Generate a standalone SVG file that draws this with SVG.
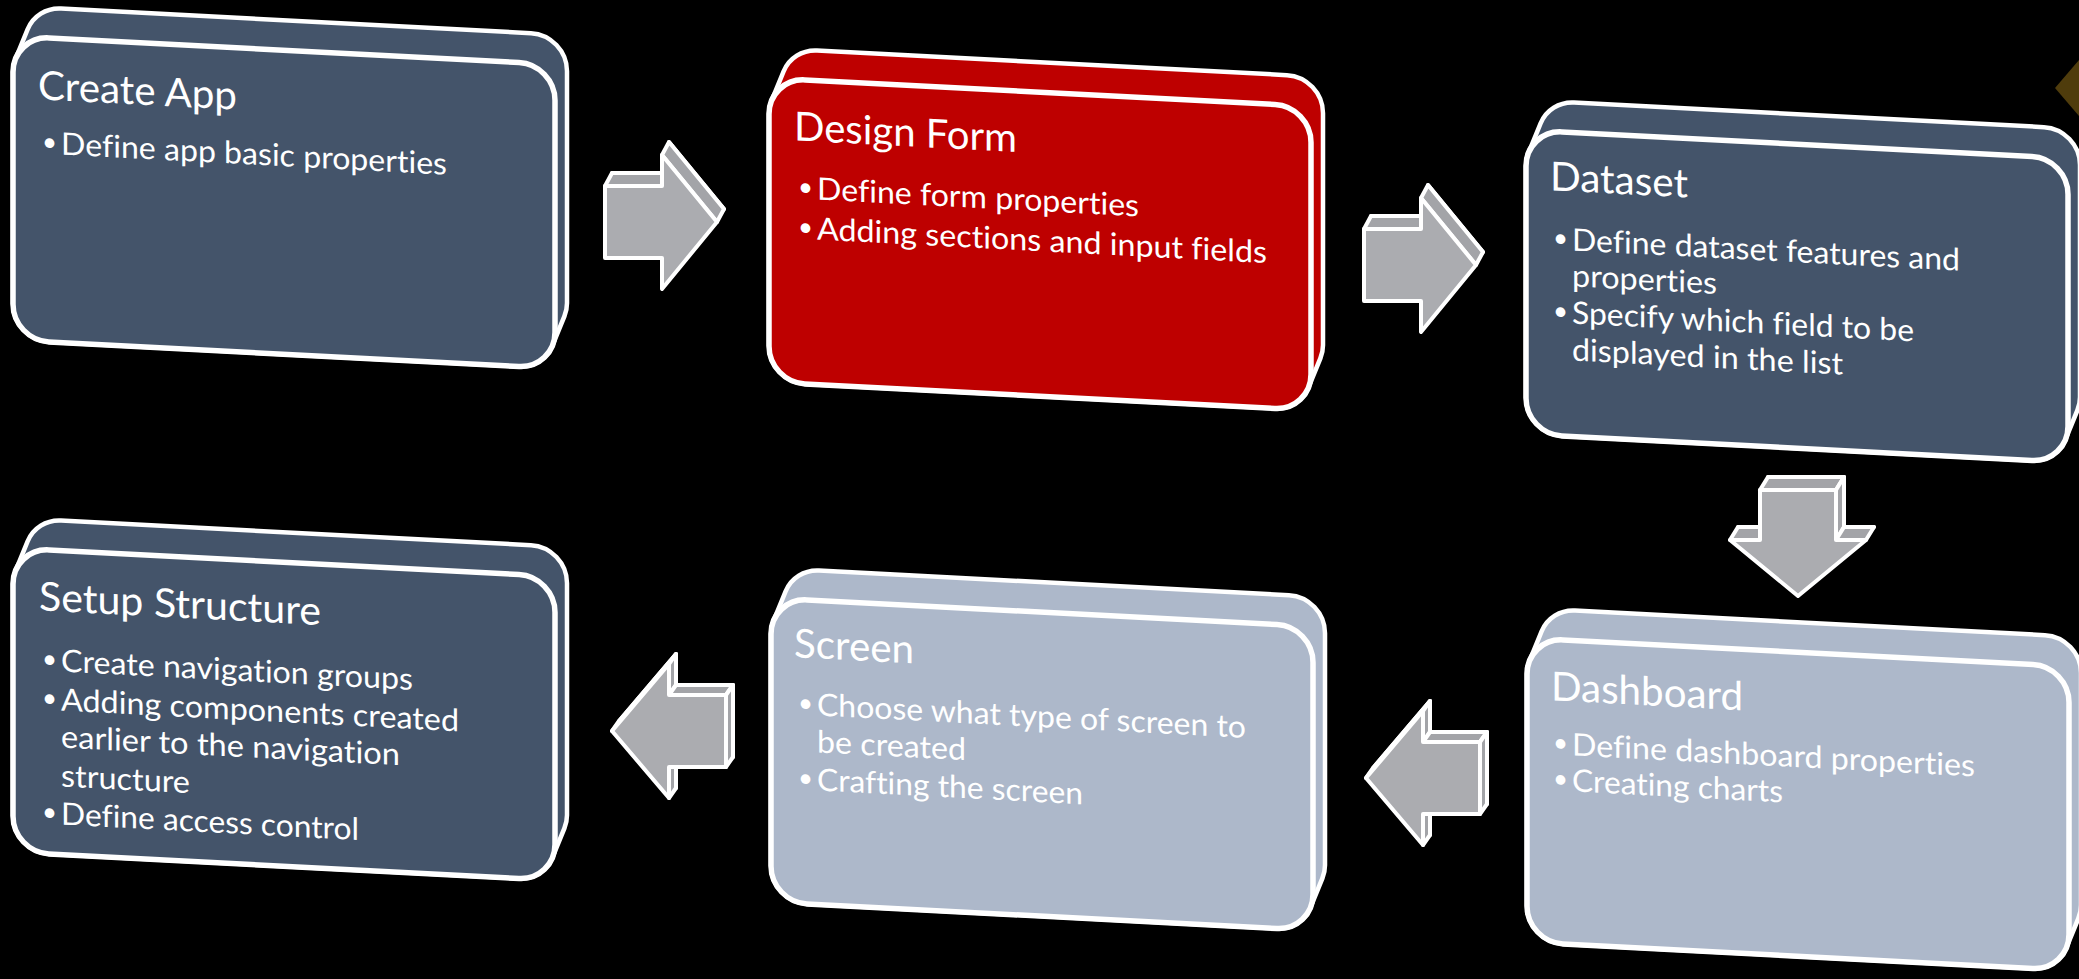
<svg xmlns="http://www.w3.org/2000/svg" width="2079" height="979" viewBox="0 0 2079 979">
<style>
.hull{stroke:#fff;stroke-width:4.5;stroke-linejoin:round}
.face{stroke:#fff;stroke-width:5.5}
.dark{fill:#44546A}
.red{fill:#BE0000}
.light{fill:#ADB8CA}
.t{font-family:Lato,"Open Sans","DejaVu Sans",sans-serif;fill:#fff;font-variant-ligatures:none;font-feature-settings:"liga" 0,"clig" 0}
.title{font-size:40px}
.body{font-size:31px}
.dot{font-size:26px}
.ar{fill:#ABACB0;stroke:#fff;stroke-width:4;stroke-linejoin:round}
.ars{fill:#A3A4A8;stroke:#fff;stroke-width:4;stroke-linejoin:round}
</style>
<defs>
<path id="hull" d="M48,-30 H518 A36,36 0 0 1 554,6 V238 A36,36 0 0 1 551.4,251.4 L539.4,281.4 A36,36 0 0 1 506,304 H36 A36,36 0 0 1 0,268 V36 A36,36 0 0 1 2.6,22.6 L14.6,-7.4 A36,36 0 0 1 48,-30 Z"/>
<rect id="front" x="0" y="0" width="542" height="304" rx="36" ry="36"/>
<g id="arR">
<polygon class="ar" points="7,-49 64,-49 64,-80 119,-13 64,54 64,23 7,23"/>
<polygon class="ars" points="0,-36 57,-36 64,-49 7,-49"/>
<polygon class="ars" points="57,-67 112,0 119,-13 64,-80"/>
<polygon class="ar" points="0,-36 57,-36 57,-67 112,0 57,67 57,36 0,36"/>
</g>
<g id="arL">
<polygon class="ar" points="7,-10 64,-77 64,-46 121,-46 121,26 64,26 64,57"/>
<polygon class="ars" points="0,0 57,-67 64,-77 7,-10"/>
<polygon class="ars" points="57,-67 57,-36 64,-46 64,-77"/>
<polygon class="ars" points="57,-36 114,-36 121,-46 64,-46"/>
<polygon class="ars" points="114,-36 114,36 121,26 121,-46"/>
<polygon class="ars" points="57,36 57,67 64,57 64,26"/>
<polygon class="ar" points="0,0 57,-67 57,-36 114,-36 114,36 57,36 57,67"/>
</g>
<g id="arD">
<polygon class="ar" points="-30,-13 46,-13 46,37 76,37 8,93 -60,37 -30,37"/>
<polygon class="ars" points="-38,0 38,0 46,-13 -30,-13"/>
<polygon class="ars" points="38,0 38,50 46,37 46,-13"/>
<polygon class="ars" points="38,50 68,50 76,37 46,37"/>
<polygon class="ars" points="-68,50 -38,50 -30,37 -60,37"/>
<polygon class="ar" points="-38,0 38,0 38,50 68,50 0,106 -68,50 -38,50"/>
</g>
</defs>
<rect x="0" y="0" width="2079" height="979" fill="#000"/>
<polygon points="2079,60 2055,88 2079,116" fill="#4F3C0C"/>

<g id="node-create-app" transform="translate(13,36) skewY(3)">
<use href="#hull" class="hull dark"/>
<use href="#front" class="face dark"/>
<text class="t title" x="25" y="62" textLength="199" lengthAdjust="spacingAndGlyphs">Create App</text>
<text class="t dot" x="29" y="113">•</text>
<text class="t body" x="48" y="116" textLength="386" lengthAdjust="spacingAndGlyphs">Define app basic properties</text>
</g>

<g id="node-design-form" transform="translate(769,78) skewY(3)">
<use href="#hull" class="hull red"/>
<use href="#front" class="face red"/>
<text class="t title" x="25" y="61" textLength="223" lengthAdjust="spacingAndGlyphs">Design Form</text>
<text class="t dot" x="29" y="116">•</text>
<text class="t body" x="48" y="119" textLength="322" lengthAdjust="spacingAndGlyphs">Define form properties</text>
<text class="t dot" x="29" y="156">•</text>
<text class="t body" x="48" y="159" textLength="450" lengthAdjust="spacingAndGlyphs">Adding sections and input fields</text>
</g>

<g id="node-dataset" transform="translate(1526,130) skewY(3)">
<use href="#hull" class="hull dark"/>
<use href="#front" class="face dark"/>
<text class="t title" x="24" y="59" textLength="138" lengthAdjust="spacingAndGlyphs">Dataset</text>
<text class="t dot" x="27" y="115">•</text>
<text class="t body" x="46" y="118" textLength="388" lengthAdjust="spacingAndGlyphs">Define dataset features and</text>
<text class="t body" x="46" y="154" textLength="145" lengthAdjust="spacingAndGlyphs">properties</text>
<text class="t dot" x="27" y="188">•</text>
<text class="t body" x="46" y="191" textLength="342" lengthAdjust="spacingAndGlyphs">Specify which field to be</text>
<text class="t body" x="46" y="228" textLength="271" lengthAdjust="spacingAndGlyphs">displayed in the list</text>
</g>

<g id="node-setup-structure" transform="translate(13,548) skewY(3)">
<use href="#hull" class="hull dark"/>
<use href="#front" class="face dark"/>
<text class="t title" x="26" y="61" textLength="282" lengthAdjust="spacingAndGlyphs">Setup Structure</text>
<text class="t dot" x="29" y="118">•</text>
<text class="t body" x="48" y="121" textLength="352" lengthAdjust="spacingAndGlyphs">Create navigation groups</text>
<text class="t dot" x="29" y="157">•</text>
<text class="t body" x="48" y="160" textLength="398" lengthAdjust="spacingAndGlyphs">Adding components created</text>
<text class="t body" x="48" y="197" textLength="339" lengthAdjust="spacingAndGlyphs">earlier to the navigation</text>
<text class="t body" x="48" y="236" textLength="129" lengthAdjust="spacingAndGlyphs">structure</text>
<text class="t dot" x="29" y="271">•</text>
<text class="t body" x="48" y="274" textLength="298" lengthAdjust="spacingAndGlyphs">Define access control</text>
</g>

<g id="node-screen" transform="translate(771,598) skewY(3)">
<use href="#hull" class="hull light"/>
<use href="#front" class="face light"/>
<text class="t title" x="23" y="58" textLength="120" lengthAdjust="spacingAndGlyphs">Screen</text>
<text class="t dot" x="27" y="112">•</text>
<text class="t body" x="46" y="115" textLength="429" lengthAdjust="spacingAndGlyphs">Choose what type of screen to</text>
<text class="t body" x="46" y="152" textLength="149" lengthAdjust="spacingAndGlyphs">be created</text>
<text class="t dot" x="27" y="187">•</text>
<text class="t body" x="46" y="190" textLength="266" lengthAdjust="spacingAndGlyphs">Crafting the screen</text>
</g>

<g id="node-dashboard" transform="translate(1527,638) skewY(3)">
<use href="#hull" class="hull light"/>
<use href="#front" class="face light"/>
<text class="t title" x="24" y="61" textLength="192" lengthAdjust="spacingAndGlyphs">Dashboard</text>
<text class="t dot" x="26" y="112">•</text>
<text class="t body" x="45" y="115" textLength="403" lengthAdjust="spacingAndGlyphs">Define dashboard properties</text>
<text class="t dot" x="26" y="148">•</text>
<text class="t body" x="45" y="151" textLength="211" lengthAdjust="spacingAndGlyphs">Creating charts</text>
</g>

<g id="connectors">
<use href="#arR" transform="translate(605,222)"/>
<use href="#arR" transform="translate(1364,265)"/>
<use href="#arD" transform="translate(1798,490)"/>
<use href="#arL" transform="translate(1366,778)"/>
<use href="#arL" transform="translate(612,731)"/>
</g>
</svg>
